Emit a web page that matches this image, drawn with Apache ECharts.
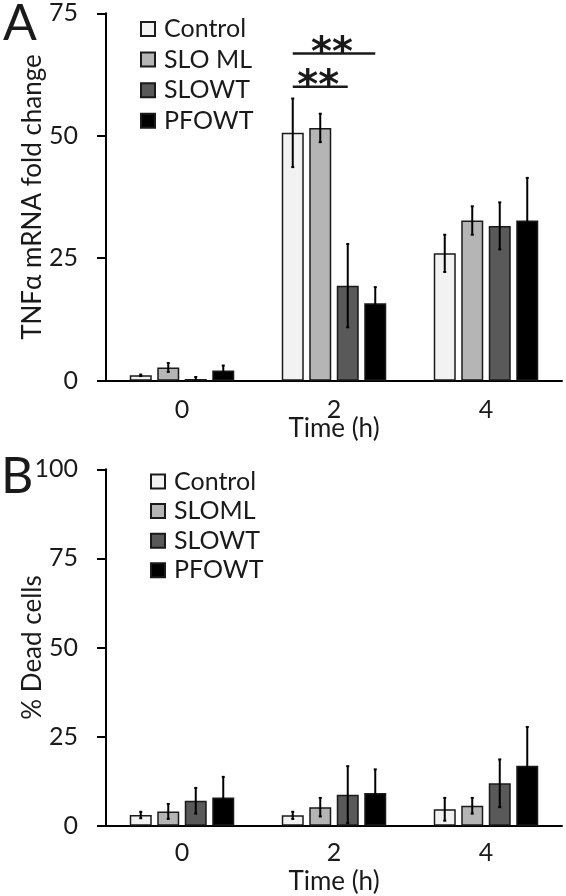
<!DOCTYPE html>
<html>
<head>
<meta charset="utf-8">
<script src="https://cdn.jsdelivr.net/npm/echarts@6/dist/echarts.min.js"></script>
<style>
html,body{margin:0;padding:0;background:#fff;}
#chart{width:566px;height:896px;}
</style>
</head>
<body>
<div id="chart"></div>
<script>
// ---- data ----
const timeCategories = ['0', '2', '4'];
const legendNamesA = ['Control', 'SLO ML', 'SLOWT', 'PFOWT'];
const legendNamesB = ['Control', 'SLOML', 'SLOWT', 'PFOWT'];
const yTicksA = [0, 25, 50, 75];
const yTicksB = [0, 25, 50, 75, 100];

// Panel A: TNFα mRNA fold change (mean, error)
const tnfControl = [1.1, 50.6, 26.0];
const tnfControlErr = [0.15, 7.0, 3.8];
const tnfSloMl = [2.7, 51.6, 32.7];
const tnfSloMlErr = [0.9, 2.9, 2.9];
const tnfSloWt = [0.35, 19.4, 31.6];
const tnfSloWtErr = [0.4, 8.5, 4.8];
const tnfPfoWt = [2.1, 15.8, 32.7];
const tnfPfoWtErr = [1.0, 3.3, 8.7];

// Panel B: % dead cells (mean, error)
const deadControl = [3.0, 2.9, 4.6];
const deadControlErr = [0.9, 1.0, 3.2];
const deadSloMl = [4.0, 5.2, 5.6];
const deadSloMlErr = [2.1, 2.6, 2.2];
const deadSloWt = [7.0, 8.7, 11.9];
const deadSloWtErr = [3.6, 8.0, 6.7];
const deadPfoWt = [7.9, 9.2, 16.8];
const deadPfoWtErr = [5.8, 6.6, 10.9];

// significance brackets in panel A: [category index, y value, from bar, to bar, label]
const sigCategory = [1, 1];
const sigLevel = [66.8, 60.0];
const sigFrom = [0, 0];
const sigTo = [3, 2];
const sigLabel = ['**', '**'];

// ---- styles ----
const FONT = 'Lato';
const TXT = '#1a1a1a';
const FS = 25;
const barColors = ['#f2f2f2', '#b5b5b5', '#595959', '#000000'];
const BAR_W = 22;
const BAR_GAP = 0.25;
const N_BARS = 4;
function barOffset(i) {
  const step = BAR_W * (1 + BAR_GAP);
  return (i - (N_BARS - 1) / 2) * step;
}

const chart = echarts.init(document.getElementById('chart'), null, {renderer: 'canvas'});

function barSeries(name, values, idx, axisIdx) {
  return {
    type: 'bar', name: name, data: values,
    xAxisIndex: axisIdx, yAxisIndex: axisIdx,
    barWidth: BAR_W, barGap: (BAR_GAP * 100) + '%',
    itemStyle: {color: barColors[idx], borderColor: '#1a1a1a', borderWidth: 1.5},
    emphasis: {disabled: true}, z: 2
  };
}
function errSeries(values, errs, idx, axisIdx) {
  return {
    type: 'custom', xAxisIndex: axisIdx, yAxisIndex: axisIdx, z: 5,
    silent: true,
    data: values.map((v, k) => [k, v, errs[k]]),
    encode: {x: 0, y: 1},
    renderItem: function (params, api) {
      const k = api.value(0), m = api.value(1), e = api.value(2);
      const top = api.coord([k, m + e]);
      const bot = api.coord([k, Math.max(0, m - e)]);
      const x = top[0] + barOffset(idx);
      const style = {stroke: '#000', lineWidth: 2};
      return {type: 'group', children: [
        {type: 'line', shape: {x1: x, y1: top[1], x2: x, y2: bot[1]}, style: style},
        {type: 'line', shape: {x1: x - 1.5, y1: top[1], x2: x + 1.5, y2: top[1]}, style: style},
        {type: 'line', shape: {x1: x - 1.5, y1: bot[1], x2: x + 1.5, y2: bot[1]}, style: style}
      ]};
    }
  };
}

const series = [];
const aVals = [tnfControl, tnfSloMl, tnfSloWt, tnfPfoWt];
const aErrs = [tnfControlErr, tnfSloMlErr, tnfSloWtErr, tnfPfoWtErr];
const bVals = [deadControl, deadSloMl, deadSloWt, deadPfoWt];
const bErrs = [deadControlErr, deadSloMlErr, deadSloWtErr, deadPfoWtErr];
for (let i = 0; i < 4; i++) series.push(barSeries(legendNamesA[i], aVals[i], i, 0));
for (let i = 0; i < 4; i++) series.push(barSeries(legendNamesB[i], bVals[i], i, 1));
for (let i = 0; i < 4; i++) series.push(errSeries(aVals[i], aErrs[i], i, 0));
for (let i = 0; i < 4; i++) series.push(errSeries(bVals[i], bErrs[i], i, 1));

series.push({
  type: 'custom', xAxisIndex: 0, yAxisIndex: 0, z: 6, silent: true,
  data: sigCategory.map((c, k) => [c, sigLevel[k], sigFrom[k], sigTo[k]]),
  encode: {x: 0, y: 1},
  renderItem: function (params, api) {
    const p = api.coord([api.value(0), api.value(1)]);
    const x1 = p[0] + barOffset(api.value(2));
    const x2 = p[0] + barOffset(api.value(3));
    const label = sigLabel[params.dataIndex];
    return {type: 'group', children: [
      {type: 'line', shape: {x1: x1, y1: p[1], x2: x2, y2: p[1]}, style: {stroke: '#1a1a1a', lineWidth: 2.5}},
      {type: 'text', x: (x1 + x2) / 2 - 2, y: p[1] + 21,
        style: {text: label, fill: '#1a1a1a', font: 'bold 40px "DejaVu Sans"', align: 'center', verticalAlign: 'bottom'}}
    ]};
  }
});

function yAxis(gridIdx, max, name, gap) {
  return {
    type: 'value', gridIndex: gridIdx, min: 0, max: max, interval: 25,
    name: name, nameLocation: 'middle', nameGap: gap, nameMoveOverlap: false,
    nameTextStyle: {fontFamily: FONT, fontSize: 26, color: TXT},
    axisLine: {show: true, lineStyle: {color: '#000', width: 2}},
    axisTick: {show: true, length: 9, lineStyle: {color: '#000', width: 2}},
    axisLabel: {fontFamily: FONT, fontSize: FS, color: TXT, margin: 28},
    splitLine: {show: false}
  };
}
function xAxis(gridIdx, gap, margin) {
  return {
    type: 'category', gridIndex: gridIdx, data: timeCategories,
    name: 'Time (h)', nameLocation: 'middle', nameGap: gap, nameMoveOverlap: false,
    nameTextStyle: {fontFamily: FONT, fontSize: 26, color: TXT},
    axisLine: {show: true, lineStyle: {color: '#000', width: 2}},
    axisTick: {show: false},
    axisLabel: {fontFamily: FONT, fontSize: FS, color: TXT, margin: margin}
  };
}

const option = {
  backgroundColor: '#fff',
  animation: false,
  grid: [
    {left: 106, top: 13.3, width: 456, height: 367.4},
    {left: 106, top: 469.3, width: 456, height: 356.4}
  ],
  xAxis: [xAxis(0, 35, 17), xAxis(1, 43, 15)],
  yAxis: [yAxis(0, 75, 'TNFα mRNA fold change', 60), yAxis(1, 100, '% Dead cells', 60)],
  legend: [
    {data: legendNamesA, orient: 'vertical', left: 140, top: 16.5, padding: 0, icon: 'rect',
      itemWidth: 14, itemHeight: 14, itemGap: 5.6, selectedMode: false,
      textStyle: {fontFamily: FONT, fontSize: FS, lineHeight: 25, color: TXT, padding: [0, 0, 0, 4]}},
    {data: legendNamesB, orient: 'vertical', left: 150, top: 469, padding: 0, icon: 'rect',
      itemWidth: 14, itemHeight: 14, itemGap: 4.6, selectedMode: false,
      textStyle: {fontFamily: FONT, fontSize: FS, lineHeight: 25, color: TXT, padding: [0, 0, 0, 4]}}
  ],
  graphic: [
    {type: 'text', left: 3, top: -1, style: {text: 'A', font: '50px Lato', fill: '#1a1a1a'}},
    {type: 'text', left: 1, top: 452, style: {text: 'B', font: '50px Lato', fill: '#1a1a1a'}}
  ],
  series: series
};
chart.setOption(option);
</script>
</body>
</html>
